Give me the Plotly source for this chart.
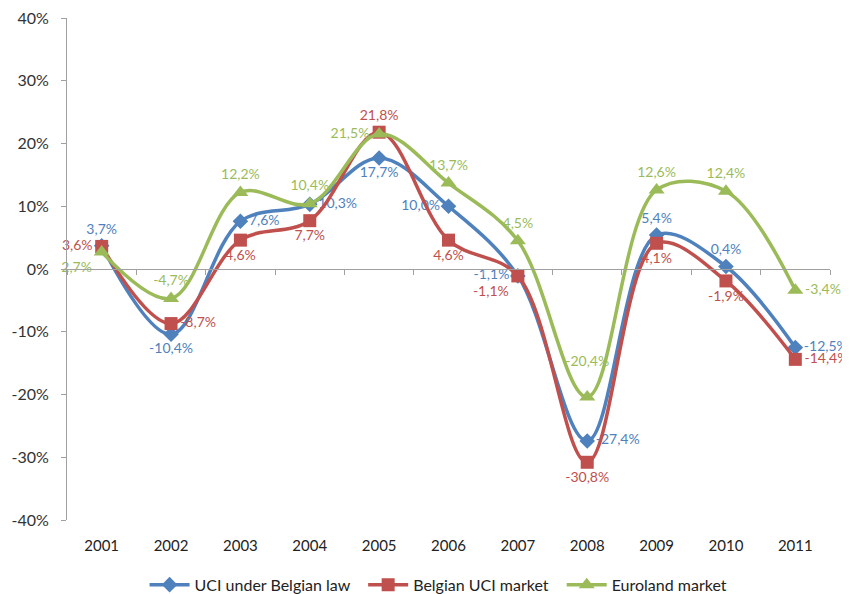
import plotly.graph_objects as go

years = ["2001", "2002", "2003", "2004", "2005", "2006", "2007", "2008", "2009", "2010", "2011"]
uci_belgian_law = [3.7, -10.4, 7.6, 10.3, 17.7, 10.0, -1.1, -27.4, 5.4, 0.4, -12.5]
belgian_uci_market = [3.6, -8.7, 4.6, 7.7, 21.8, 4.6, -1.1, -30.8, 4.1, -1.9, -14.4]
euroland_market = [2.7, -4.7, 12.2, 10.4, 21.5, 13.7, 4.5, -20.4, 12.6, 12.4, -3.4]
y_ticks = [-40, -30, -20, -10, 0, 10, 20, 30, 40]


def fmt(v):
    return f"{v:.1f}%".replace(".", ",")


pos_blue = ["top center", "bottom center", "middle right", "middle right", "bottom center",
            "middle left", "middle left", "middle right", "top center", "top center", "middle right"]
pos_red = ["middle left", "middle right", "bottom center", "bottom center", "top center",
           "bottom center", "bottom left", "bottom center", "bottom center", "bottom center", "middle right"]
pos_green = ["bottom left", "top center", "top center", "top center", "middle left",
             "top center", "top center", "top center", "top center", "top center", "middle right"]
# extra blank lines pushing a label further from its marker
lift_green = [0, 0, 0, 0, 0, 0, 0, 1, 0, 0, 0]

FONT = "Lato, Calibri, sans-serif"
series = [
    ("UCI under Belgian law", uci_belgian_law, "#4F81BD", "diamond", 12, pos_blue, None, 2),
    ("Belgian UCI market", belgian_uci_market, "#C0504D", "square", 13, pos_red, None, 2),
    ("Euroland market", euroland_market, "#9BBB59", "triangle-up", 14, pos_green, lift_green, 0),
]

fig = go.Figure()
for name, vals, col, sym, sz, pos, lift, pad in series:
    texts = [fmt(v) for v in vals]
    if lift:
        texts = [t + "<br> " * n for t, n in zip(texts, lift)]
    fig.add_trace(go.Scatter(
        x=years, y=vals, name=name + "\u00a0" * pad, mode="lines+markers+text",
        line=dict(color=col, width=3.5, shape="spline", smoothing=1.0),
        marker=dict(symbol=sym, size=sz, color=col),
        text=texts, textposition=pos,
        textfont=dict(family=FONT, size=14, color=col),
        cliponaxis=False,
    ))

# helper axis for the zero line with boundary ticks
fig.add_trace(go.Scatter(x=years, y=[0] * len(years), xaxis="x2", mode="lines",
                         line=dict(width=0), showlegend=False, hoverinfo="skip"))

# the page body adds an 8px offset, so the margins are shifted to compensate
fig.update_layout(
    width=850, height=594,
    margin=dict(l=59, r=28, t=10, b=82),
    paper_bgcolor="white", plot_bgcolor="white",
    font=dict(family=FONT, size=15, color="#404040"),
    showlegend=True,
    legend=dict(orientation="h", xref="paper", x=0.487, xanchor="center",
                yref="container", y=0.029, yanchor="middle",
                font=dict(family=FONT, size=16, color="#222222"), itemwidth=40,
                traceorder="normal"),
    xaxis=dict(type="category", range=[-0.5, 10.5], showline=False, ticks="",
               showgrid=False, zeroline=False, automargin=False, ticklabelstandoff=15,
               ticklabeloverflow="allow",
               tickfont=dict(size=15, color="#222222")),
    xaxis2=dict(type="category", range=[-0.5, 10.5], overlaying="x", anchor="free",
                position=0.5, side="bottom", showline=True, linecolor="#A0A0A0", linewidth=1,
                ticks="outside", ticklen=5, tickcolor="#A0A0A0", tickson="boundaries",
                showticklabels=False, showgrid=False, zeroline=False, automargin=False),
    yaxis=dict(range=[-40, 40], tickvals=y_ticks, ticktext=[f"{v}%" for v in y_ticks],
               showline=True, linecolor="#A0A0A0", linewidth=1, ticks="outside",
               ticklen=5, tickcolor="#A0A0A0", showgrid=False, zeroline=False,
               automargin=False, ticklabelstandoff=9, ticklabeloverflow="allow",
               tickfont=dict(size=16, color="#333333")),
)

fig.write_html("out.html")
